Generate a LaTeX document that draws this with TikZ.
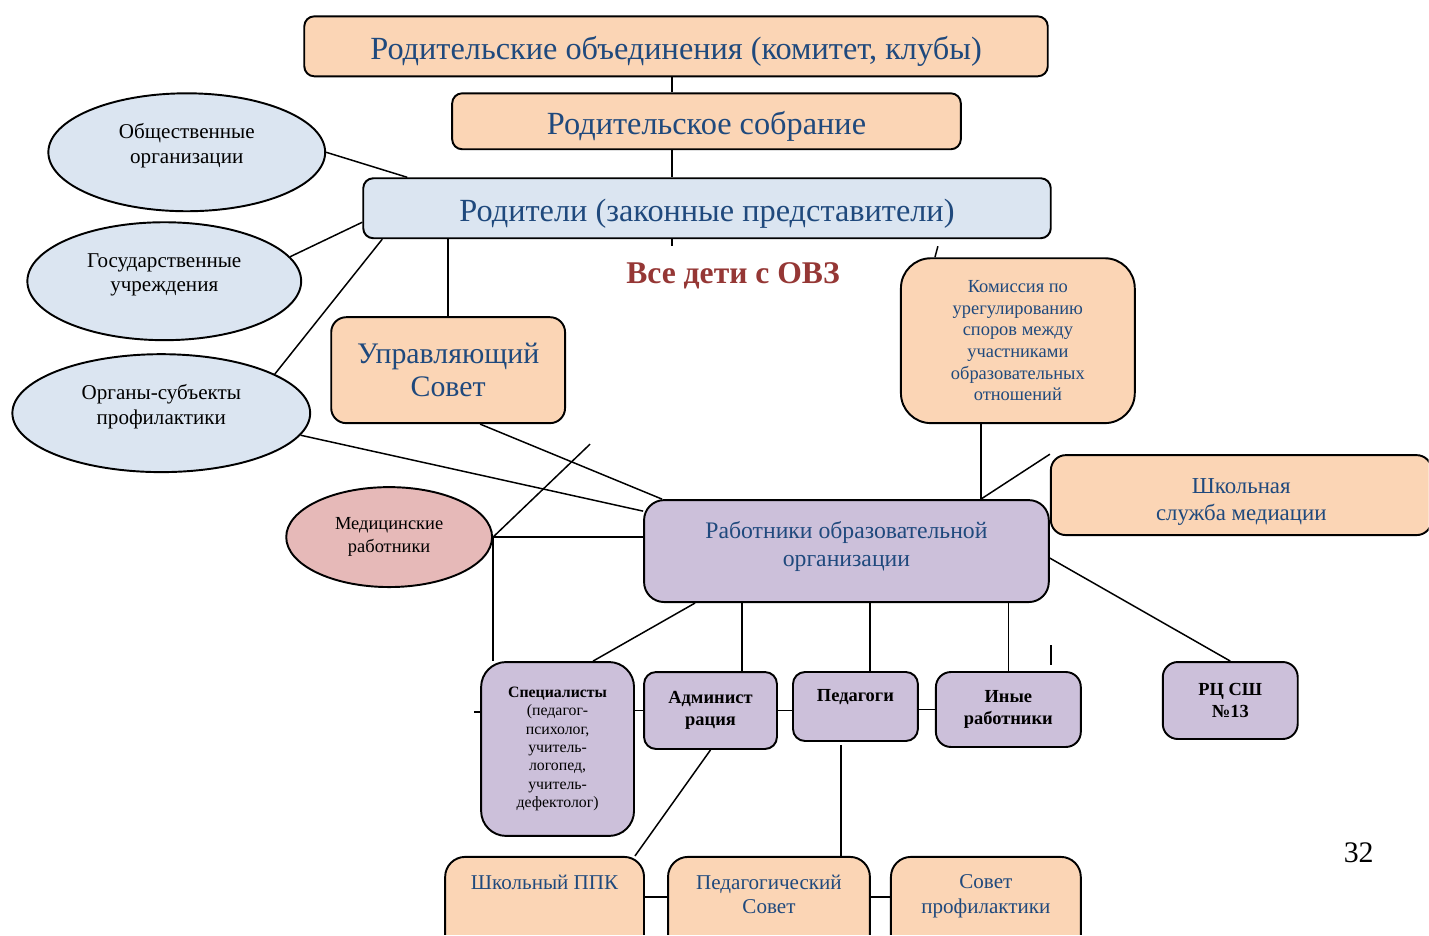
\documentclass[tikz,border=0pt]{standalone}
\usepackage{fontspec}
\setmainfont{Liberation Serif}
\usepackage{xcolor}
\usetikzlibrary{shapes.geometric}
\definecolor{peach}{HTML}{FBD5B5}
\definecolor{sky}{HTML}{DBE5F1}
\definecolor{lilac}{HTML}{CCC0DA}
\definecolor{rose}{HTML}{E6B9B8}
\definecolor{ink}{HTML}{1F497D}
\definecolor{brick}{HTML}{953735}

\begin{document}
\begin{tikzpicture}[x=0.02cm,y=-0.02cm,
		box/.style={draw,line width=1.1pt,rounded corners=0.2cm,align=center,inner sep=0pt},
		peachbox/.style={box,fill=peach,text=ink},
		skybox/.style={box,fill=sky,text=ink},
		headline/.style={font=\fontsize{18.4}{21}\selectfont,text height=18pt,text depth=3pt},
		lilacbox/.style={box,fill=lilac,rounded corners=0.24cm,font=\bfseries\fontsize{10.5}{12.5}\selectfont},
		oval/.style={ellipse,draw,line width=1.1pt,fill=sky,align=center,inner sep=0pt,font=\fontsize{12}{14}\selectfont},
		lowbox/.style={peachbox,anchor=north,rounded corners=0.4cm,inner ysep=0.36cm,text depth=1.4cm,font=\fontsize{12}{14}\selectfont},
		link/.style={line width=0.85pt}]
		%
		\draw [use as bounding box,color=white] (0,0) rectangle (1429,935);
		\clip (0,0) rectangle (1429,935);
		%
		% parents
		\node[peachbox,headline,minimum width=14.88cm,minimum height=1.2cm] (obed) at (676,46) {Родительские объединения (комитет, клубы)};
		\node[peachbox,headline,minimum width=10.18cm,minimum height=1.12cm] (sobr) at (706.5,121) {Родительское собрание};
		\node[skybox,headline,minimum width=13.76cm,minimum height=1.2cm] (rod) at (707,208) {Родители (законные представители)};
		%
		\node[oval,minimum width=5.54cm,minimum height=2.36cm] (obsh) at (186.5,152) {Общественные\\организации\\[-4pt]\mbox{}};
		\node[oval,minimum width=5.48cm,minimum height=2.36cm] (gos) at (164,281) {Государственные\\учреждения\\[-4pt]\mbox{}};
		\node[oval,minimum width=5.96cm,minimum height=2.36cm] (organy) at (161,413) {Органы-субъекты\\профилактики\\[-4pt]\mbox{}};
		%
		\node[peachbox,rounded corners=0.3cm,minimum width=4.68cm,minimum height=2.12cm,font=\fontsize{17}{19}\selectfont] (uprav) at (448,370) {Управляющий\\Совет};
		\node[text=brick,font=\bfseries\fontsize{18}{20}\selectfont] (ovz) at (733,276) {Все дети с ОВЗ};
		\node[peachbox,rounded corners=0.6cm,minimum width=4.68cm,minimum height=3.3cm,font=\fontsize{10.5}{12.3}\selectfont] (komis) at (1018,340.5) {Комиссия по\\урегулированию\\споров между\\участниками\\образовательных\\отношений};
		\node[peachbox,rounded corners=0.3cm,minimum width=7.62cm,minimum height=1.6cm,font=\fontsize{13}{15.3}\selectfont] (mediac) at (1241.5,495) {\rule{0pt}{16pt}Школьная\\служба медиации};
		%
		% staff
		\node[oval,fill=rose,minimum width=4.12cm,minimum height=2cm,font=\fontsize{10.5}{13}\selectfont] (med) at (389,537) {Медицинские\\работники};
		\node[lilacbox,text=ink,rounded corners=0.4cm,minimum width=8.1cm,minimum height=2.04cm,font=\fontsize{13.5}{16}\selectfont] (rab) at (846.5,551) {Работники образовательной\\организации\\[-8pt]\mbox{}};
		\node[lilacbox,rounded corners=0.5cm,minimum width=3.06cm,minimum height=3.48cm,font=\fontsize{9}{10.5}\selectfont] (spec) at (557.5,749) {\textbf{Специалисты}\\(педагог-\\психолог,\\учитель-\\логопед,\\учитель-\\дефектолог)};
		\node[lilacbox,minimum width=2.66cm,minimum height=1.54cm] (adm) at (710.5,710.5) {Админист\\рация};
		\node[lilacbox,minimum width=2.5cm,minimum height=1.38cm] (ped) at (855.5,706.5) {Педагоги\\\mbox{}};
		\node[lilacbox,rounded corners=0.3cm,minimum width=2.9cm,minimum height=1.5cm] (inye) at (1008.5,709.5) {Иные\\работники};
		\node[lilacbox,rounded corners=0.3cm,minimum width=2.7cm,minimum height=1.54cm] (rc) at (1230.5,700.5) {РЦ СШ\\№13};
		%
		\node[lowbox,minimum width=3.98cm] (ppk) at (544.5,856) {Школьный ППК};
		\node[lowbox,minimum width=4.04cm] (pedsov) at (769,856) {Педагогический\\Совет};
		\node[lowbox,minimum width=3.8cm] (sovprof) at (986,856) {Совет\\профилактики};
		%
		\node[font=\fontsize{17}{20}\selectfont] (page) at (1359,853) {32};
		%
		% free ends and helper points
		\coordinate (spine) at (672,0);
		\coordinate (rodstub) at (672,246);
		\coordinate (komisstub) at (938,246);
		\coordinate (medstub) at (590,444);
		\coordinate (inyestub) at (1051,645);
		\coordinate (inyestubend) at (1051,665);
		\coordinate (specstub) at (474,712);
		\coordinate (row) at (0,897);
		\coordinate (admtop) at ([xshift=0.63cm]adm.north);
		\coordinate (pedtop) at ([xshift=0.29cm]ped.north);
		\coordinate (pedfoot) at ([xshift=-0.29cm,yshift=-0.06cm]ped.south);
		\coordinate (komisfoot) at ([xshift=-0.74cm]komis.south);
		%
		\draw[link] (obed.south -| spine) -- (sobr.north -| spine);
		\draw[link] (sobr.south -| spine) -- (rod.north -| spine);
		\draw[link] (rod.south -| spine) -- (rodstub);
		\draw[link] (obsh.east) -- ([xshift=0.9cm]rod.north west);
		\draw[link] (gos.11) -- ([yshift=-0.28cm]rod.west);
		\draw[link] (organy.19) -- ([xshift=0.4cm]rod.south west);
		\draw[link] (rod.south -| uprav.north) -- (uprav.north);
		\draw[link] ([xshift=0.7cm]komis.north west) -- (komisstub);
		%
		\draw[link] ([xshift=0.64cm]uprav.south) -- ([xshift=0.38cm]rab.north west);
		\draw[link] (organy.-9) -- ([yshift=-0.24cm]rab.north west);
		\draw[link] (med.east) -- (medstub);
		\draw[link] (med.east) -- (rab.west |- med.east);
		\draw[link] (med.east) -- (med.east |- spec.north);
		\draw[link] (komisfoot) -- (rab.north -| komisfoot);
		\draw[link] (rab.north -| komisfoot) -- (mediac.north west);
		%
		\draw[link] ([xshift=1.04cm]rab.south west) -- ([xshift=0.71cm]spec.north);
		\draw[link] (rab.south -| admtop) -- (admtop);
		\draw[link] (rab.south -| pedtop) -- (pedtop);
		\draw[link] (rab.south -| inye.north) -- (inye.north);
		\draw[link] (inyestub) -- (inyestubend);
		\draw[link] ([yshift=-0.14cm]rab.east) -- (rc.north);
		%
		\draw[link] (specstub) -- (specstub -| spec.west);
		\draw[link] (spec.east |- adm.west) -- (adm.west);
		\draw[link] (adm.east) -- (ped.west |- adm.east);
		\draw[link] (ped.east |- inye.west) -- (inye.west);
		\draw[link] (adm.south) -- ([xshift=-0.2cm]ppk.north east);
		\draw[link] (pedfoot) -- (pedsov.north -| pedfoot);
		\draw[link] (ppk.east |- row) -- (pedsov.west |- row);
		\draw[link] (pedsov.east |- row) -- (sovprof.west |- row);
		%
	\end{tikzpicture}
\end{document}
